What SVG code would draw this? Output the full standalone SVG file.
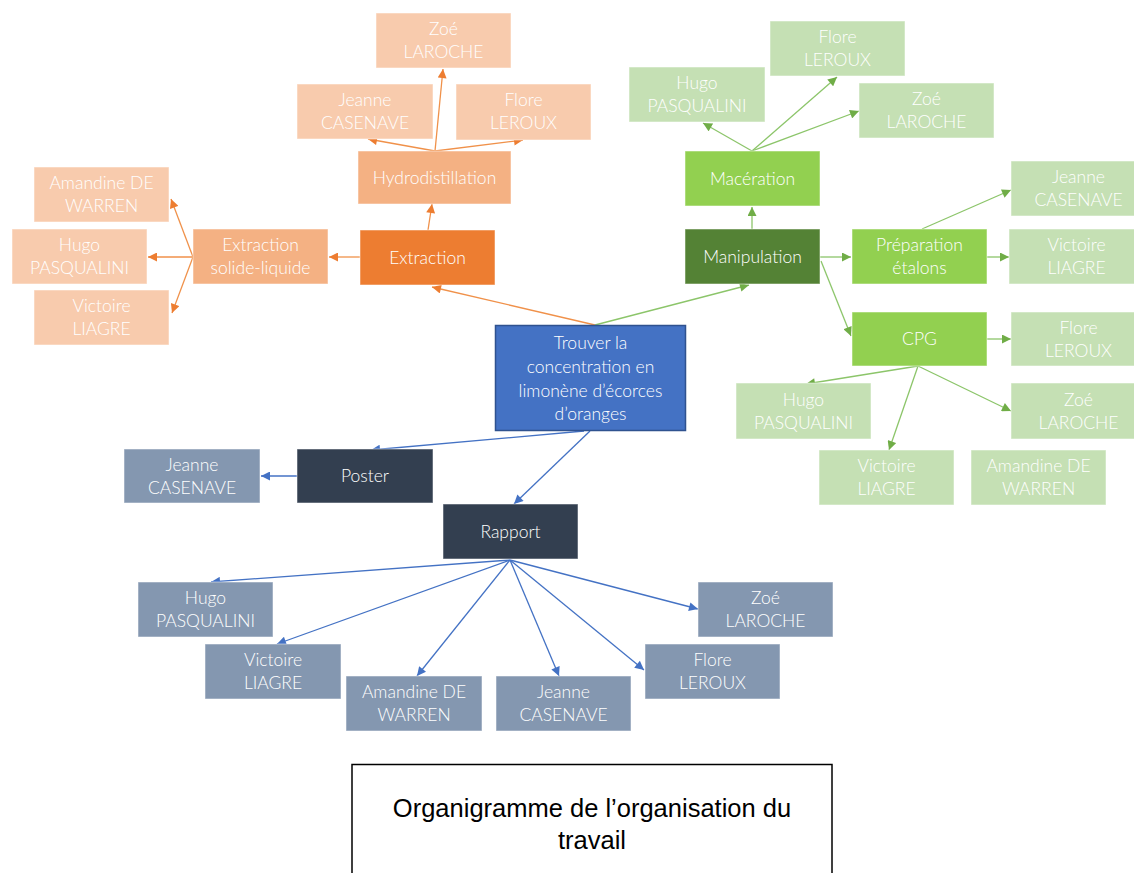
<svg xmlns="http://www.w3.org/2000/svg" width="1134" height="873" viewBox="0 0 1134 873">
<style>
.t{font-family:Lato,"Open Sans",sans-serif;font-weight:300;font-size:17.5px;fill:#fff;text-anchor:middle}
.b{stroke:#fff;stroke-opacity:0.5;stroke-width:1}
.oc{stroke:#F0914A;stroke-width:1.3;fill:none;marker-end:url(#ao)}
.gc{stroke:#8CC56A;stroke-width:1.3;fill:none;marker-end:url(#ag)}
.bc{stroke:#4472C4;stroke-width:1.3;fill:none;marker-end:url(#ab)}
.ol{fill:#F8CBAD}.om{fill:#F4B183}.od{fill:#ED7D31}
.gl{fill:#C5E0B4}.gm{fill:#92D050}.gd{fill:#548235}
.bl{fill:#8497B0}.bd{fill:#333F50}
.cap{font-family:"Liberation Sans",Arial,sans-serif;font-size:25.5px;fill:#000;text-anchor:middle}
</style>
<defs>
<marker id="ao" viewBox="0 0 10 10" refX="10" refY="5" markerWidth="10" markerHeight="9" markerUnits="userSpaceOnUse" orient="auto"><path d="M0,0 L10,5 L0,10 z" fill="#ED7D31"/></marker>
<marker id="ag" viewBox="0 0 10 10" refX="10" refY="5" markerWidth="10" markerHeight="9" markerUnits="userSpaceOnUse" orient="auto"><path d="M0,0 L10,5 L0,10 z" fill="#70AD47"/></marker>
<marker id="ab" viewBox="0 0 10 10" refX="10" refY="5" markerWidth="10" markerHeight="9" markerUnits="userSpaceOnUse" orient="auto"><path d="M0,0 L10,5 L0,10 z" fill="#4472C4"/></marker>
</defs>
<rect width="1134" height="873" fill="#fff"/>

<g id="connectors">
<!-- orange -->
<line class="oc" x1="595" y1="325" x2="432" y2="287"/>
<line class="oc" x1="428" y1="230" x2="432" y2="204"/>
<line class="oc" x1="435" y1="151" x2="443" y2="69"/>
<line class="oc" x1="435" y1="151" x2="368" y2="139"/>
<line class="oc" x1="435" y1="151" x2="523" y2="140"/>
<line class="oc" x1="360" y1="257" x2="329" y2="257"/>
<line class="oc" x1="193" y1="257" x2="171" y2="199"/>
<line class="oc" x1="193" y1="257" x2="148" y2="257"/>
<line class="oc" x1="193" y1="257" x2="172" y2="313"/>
<!-- green -->
<line class="gc" x1="595" y1="325" x2="749" y2="285"/>
<line class="gc" x1="752" y1="229" x2="752" y2="207"/>
<line class="gc" x1="752" y1="151" x2="703" y2="123"/>
<line class="gc" x1="752" y1="151" x2="837" y2="77"/>
<line class="gc" x1="752" y1="151" x2="859" y2="111"/>
<line class="gc" x1="820" y1="257" x2="851" y2="257"/>
<line class="gc" x1="922" y1="229" x2="1011" y2="190"/>
<line class="gc" x1="987" y1="257" x2="1009" y2="257"/>
<line class="gc" x1="821" y1="261" x2="851" y2="336"/>
<line class="gc" x1="987" y1="339" x2="1011" y2="339"/>
<line class="gc" x1="918" y1="366" x2="806" y2="384"/>
<line class="gc" x1="918" y1="366" x2="889" y2="450"/>
<line class="gc" x1="918" y1="366" x2="1011" y2="411"/>
<!-- blue -->
<line class="bc" x1="584" y1="431" x2="371" y2="450"/>
<line class="bc" x1="590" y1="431" x2="514" y2="504"/>
<line class="bc" x1="297" y1="476" x2="261" y2="476"/>
<line class="bc" x1="510" y1="560" x2="211" y2="582"/>
<line class="bc" x1="510" y1="560" x2="277" y2="644"/>
<line class="bc" x1="510" y1="560" x2="417" y2="676"/>
<line class="bc" x1="510" y1="560" x2="559" y2="676"/>
<line class="bc" x1="510" y1="560" x2="644" y2="670"/>
<line class="bc" x1="510" y1="560" x2="698" y2="609"/>
</g>

<!-- orange branch -->
<g id="extraction"><rect class="od b" x="360" y="230" width="135" height="55"/><text class="t" x="427.5" y="263.5">Extraction</text></g>
<g id="hydrodistillation"><rect class="om b" x="358" y="151" width="153" height="53"/><text class="t" x="434.5" y="183.5">Hydrodistillation</text></g>
<g id="extraction-sl"><rect class="om b" x="193" y="229" width="135" height="55"/><text class="t" x="260.5" y="251">Extraction</text><text class="t" x="260.5" y="274">solide-liquide</text></g>
<g id="o-zoe"><rect class="ol b" x="376" y="13" width="135" height="55"/><text class="t" x="443.5" y="35">Zoé</text><text class="t" x="443.5" y="58">LAROCHE</text></g>
<g id="o-jeanne"><rect class="ol b" x="297" y="84" width="136" height="55"/><text class="t" x="365" y="106">Jeanne</text><text class="t" x="365" y="129">CASENAVE</text></g>
<g id="o-flore"><rect class="ol b" x="456" y="84" width="135" height="56"/><text class="t" x="523.5" y="106">Flore</text><text class="t" x="523.5" y="129">LEROUX</text></g>
<g id="o-amandine"><rect class="ol b" x="34" y="167" width="135" height="55"/><text class="t" x="101.5" y="189">Amandine DE</text><text class="t" x="101.5" y="212">WARREN</text></g>
<g id="o-hugo"><rect class="ol b" x="12" y="229" width="135" height="55"/><text class="t" x="79.5" y="251">Hugo</text><text class="t" x="79.5" y="274">PASQUALINI</text></g>
<g id="o-victoire"><rect class="ol b" x="34" y="290" width="135" height="55"/><text class="t" x="101.5" y="312">Victoire</text><text class="t" x="101.5" y="335">LIAGRE</text></g>

<!-- green branch -->
<g id="manipulation"><rect class="gd b" x="685" y="229" width="135" height="55"/><text class="t" x="752.5" y="262.5">Manipulation</text></g>
<g id="maceration"><rect class="gm b" x="685" y="151" width="135" height="55"/><text class="t" x="752.5" y="184.5">Macération</text></g>
<g id="preparation"><rect class="gm b" x="852" y="229" width="135" height="55"/><text class="t" x="919.5" y="251">Préparation</text><text class="t" x="919.5" y="274">étalons</text></g>
<g id="cpg"><rect class="gm b" x="852" y="312" width="135" height="54"/><text class="t" x="919.5" y="345">CPG</text></g>
<g id="g-flore1"><rect class="gl b" x="770" y="21" width="135" height="55"/><text class="t" x="837.5" y="43">Flore</text><text class="t" x="837.5" y="66">LEROUX</text></g>
<g id="g-hugo1"><rect class="gl b" x="629" y="67" width="136" height="55"/><text class="t" x="697" y="89">Hugo</text><text class="t" x="697" y="112">PASQUALINI</text></g>
<g id="g-zoe1"><rect class="gl b" x="859" y="83" width="135" height="55"/><text class="t" x="926.5" y="105">Zoé</text><text class="t" x="926.5" y="128">LAROCHE</text></g>
<g id="g-jeanne"><rect class="gl b" x="1011" y="161" width="135" height="55"/><text class="t" x="1078.5" y="183">Jeanne</text><text class="t" x="1078.5" y="206">CASENAVE</text></g>
<g id="g-victoire1"><rect class="gl b" x="1009" y="229" width="135" height="55"/><text class="t" x="1076.5" y="251">Victoire</text><text class="t" x="1076.5" y="274">LIAGRE</text></g>
<g id="g-flore2"><rect class="gl b" x="1011" y="312" width="135" height="54"/><text class="t" x="1078.5" y="334">Flore</text><text class="t" x="1078.5" y="357">LEROUX</text></g>
<g id="g-hugo2"><rect class="gl b" x="736" y="383" width="135" height="56"/><text class="t" x="803.5" y="406">Hugo</text><text class="t" x="803.5" y="429">PASQUALINI</text></g>
<g id="g-zoe2"><rect class="gl b" x="1011" y="383" width="135" height="56"/><text class="t" x="1078.5" y="406">Zoé</text><text class="t" x="1078.5" y="429">LAROCHE</text></g>
<g id="g-victoire2"><rect class="gl b" x="819" y="450" width="135" height="55"/><text class="t" x="886.5" y="472">Victoire</text><text class="t" x="886.5" y="495">LIAGRE</text></g>
<g id="g-amandine"><rect class="gl b" x="971" y="450" width="135" height="55"/><text class="t" x="1038.5" y="472">Amandine DE</text><text class="t" x="1038.5" y="495">WARREN</text></g>

<!-- center -->
<g id="trouver"><rect x="495.5" y="325.5" width="190" height="105" fill="#4472C4" stroke="#2F528F" stroke-width="1.5"/>
<text class="t" x="590.5" y="349">Trouver la</text><text class="t" x="590.5" y="373">concentration en</text><text class="t" x="590.5" y="397">limonène d’écorces</text><text class="t" x="590.5" y="420">d’oranges</text></g>

<!-- blue branch -->
<g id="poster"><rect class="bd b" x="297" y="449" width="136" height="54"/><text class="t" x="365" y="482">Poster</text></g>
<g id="rapport"><rect class="bd b" x="443" y="504" width="135" height="55"/><text class="t" x="510.5" y="537.5">Rapport</text></g>
<g id="b-jeanne1"><rect class="bl b" x="124" y="449" width="136" height="54"/><text class="t" x="192" y="471">Jeanne</text><text class="t" x="192" y="494">CASENAVE</text></g>
<g id="b-hugo"><rect class="bl b" x="138" y="582" width="135" height="55"/><text class="t" x="205.5" y="604">Hugo</text><text class="t" x="205.5" y="627">PASQUALINI</text></g>
<g id="b-victoire"><rect class="bl b" x="205" y="644" width="136" height="55"/><text class="t" x="273" y="666">Victoire</text><text class="t" x="273" y="689">LIAGRE</text></g>
<g id="b-amandine"><rect class="bl b" x="346" y="676" width="136" height="55"/><text class="t" x="414" y="698">Amandine DE</text><text class="t" x="414" y="721">WARREN</text></g>
<g id="b-jeanne2"><rect class="bl b" x="496" y="676" width="135" height="55"/><text class="t" x="563.5" y="698">Jeanne</text><text class="t" x="563.5" y="721">CASENAVE</text></g>
<g id="b-flore"><rect class="bl b" x="645" y="644" width="135" height="55"/><text class="t" x="712.5" y="666">Flore</text><text class="t" x="712.5" y="689">LEROUX</text></g>
<g id="b-zoe"><rect class="bl b" x="698" y="582" width="135" height="55"/><text class="t" x="765.5" y="604">Zoé</text><text class="t" x="765.5" y="627">LAROCHE</text></g>

<!-- caption -->
<g id="caption"><rect x="352" y="764.5" width="480" height="130" fill="#fff" stroke="#000" stroke-width="1.5"/>
<text class="cap" x="592" y="817">Organigramme de l’organisation du</text><text class="cap" x="592" y="849">travail</text></g>
</svg>
